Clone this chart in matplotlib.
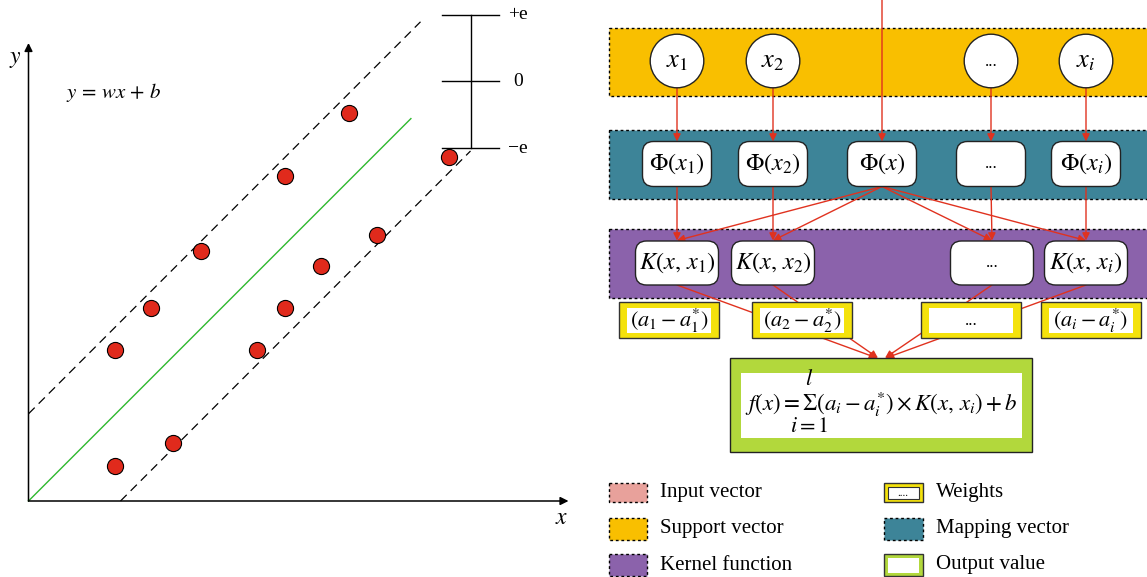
import matplotlib.pyplot as plt
from matplotlib.patches import Rectangle, FancyBboxPatch, Circle

plt.rcParams['font.family'] = ['Liberation Serif', 'DejaVu Serif']
plt.rcParams['mathtext.fontset'] = 'stix'

# --- regression panel data ---
pts_x = [2.15, 3.6, 2.15, 3.05, 4.3, 5.7, 6.4, 7.3, 8.7, 6.4, 8.0, 10.5]
pts_y = [0.88, 1.45, 3.78, 4.83, 6.25, 3.78, 4.83, 5.88, 6.65, 8.12, 9.7, 8.6]
w, b = 1.0, 0.0            # fitted line y = wx + b
band_up, band_lo = 2.18, -2.3
eps_center, eps_half = 10.49, 1.67
eps_labels = ['+e', '0', '\u2212e']

# --- network diagram data ---
input_labels = [r'$x_1$', r'$x_2$', '...', r'$x_i$']
map_labels = [r'$\Phi(x_1)$', r'$\Phi(x_2)$', r'$\Phi(x)$', '...', r'$\Phi(x_i)$']
kernel_labels = [r'$K(x,\, x_1)$', r'$K(x,\, x_2)$', '...', r'$K(x,\, x_i)$']
weight_labels = [r'$(a_1 - a_1^{*})$', r'$(a_2 - a_2^{*})$', '...', r'$(a_i - a_i^{*})$']
legend_left = ['Input vector', 'Support vector', 'Kernel function']
legend_right = ['Weights', 'Mapping vector', 'Output value']

# layout (pixels)
input_cx = [677, 773, 991, 1086]
map_cx = [677, 773, 882, 991, 1086]
kernel_cx = [677, 773, 992, 1086]
weight_cx = [669, 802, 971, 1091]

RED = '#e0321f'
C_INPUT = '#e8a19b'
C_SUPPORT = '#f9bf00'
C_MAP = '#3d8498'
C_KERNEL = '#8b62ab'
C_WEIGHT = '#f4e20c'
C_OUT = '#b2d83c'

fig = plt.figure(figsize=(11.47, 5.77), dpi=100)

# ================= left: epsilon-tube regression =================
ax_l = fig.add_axes([0, 0, 580 / 1147, 1])
ax_l.set_xlim(-0.7125, 13.7875)
ax_l.set_ylim(-1.9, 12.525)
ax_l.axis('off')

arrow_kw = dict(arrowstyle='-|>', color='black', lw=1.1, mutation_scale=12,
                shrinkA=0, shrinkB=0)
ax_l.annotate('', xy=(13.5, 0), xytext=(0, 0), arrowprops=arrow_kw)
ax_l.annotate('', xy=(0, 11.45), xytext=(0, 0), arrowprops=arrow_kw)
ax_l.text(13.34, -0.45, '$x$', fontsize=17, ha='center', va='center')
ax_l.text(-0.34, 11.05, '$y$', fontsize=17, ha='center', va='center')
ax_l.text(2.12, 10.2, r'$y \,=\, wx \,+\, b$', fontsize=15, ha='center', va='center')

ax_l.plot([0, 9.56], [b, w * 9.56 + b], color='#2eb82e', lw=1)
ax_l.plot([0, 9.8], [band_up, 9.8 + band_up], color='black', lw=0.9, dashes=(7, 4.5))
ax_l.plot([-band_lo, 11.05], [0, 11.05 + band_lo], color='black', lw=0.9, dashes=(7, 4.5))

ax_l.scatter(pts_x, pts_y, s=135, facecolor='#e02a1c', edgecolor='black',
             linewidth=0.8, zorder=3)

# epsilon scale bar
ex = 11.05
ax_l.plot([ex, ex], [eps_center - eps_half, eps_center + eps_half], color='black', lw=1)
for k, lab in enumerate(eps_labels):
    yy = eps_center + eps_half * (1 - k)
    ax_l.plot([ex - 0.72, ex + 0.72], [yy, yy], color='black', lw=1)
    ax_l.text(12.24, yy, lab, fontsize=14, ha='center', va='center')

# ================= right: SVR network =================
ax = fig.add_axes([0, 0, 1, 1])
ax.set_xlim(0, 1147)
ax.set_ylim(577, 0)
ax.axis('off')
ax.patch.set_alpha(0)


def band(y0, y1, color):
    ax.add_patch(Rectangle((608.5, y0), 560, y1 - y0, facecolor=color,
                           edgecolor='black', lw=1, linestyle=(0, (2, 2)), zorder=1))


def rbox(cx, cy, wd, ht, label, fs):
    ax.add_patch(FancyBboxPatch((cx - wd / 2, cy - ht / 2), wd, ht,
                                boxstyle='round,pad=0,rounding_size=11',
                                facecolor='white', edgecolor='#222222', lw=1, zorder=3))
    ax.text(cx, cy, label, fontsize=fs, ha='center', va='center', zorder=4)


def arrow(p0, p1, head=True, z=2):
    ax.annotate('', xy=p1, xytext=p0, zorder=z,
                arrowprops=dict(arrowstyle='-|>' if head else '-', color=RED, lw=1,
                                mutation_scale=11, shrinkA=0, shrinkB=0))


band(27.5, 96, C_SUPPORT)
band(129.5, 198.5, C_MAP)
band(228.5, 297.5, C_KERNEL)

# input nodes
for cx, lab in zip(input_cx, input_labels):
    ax.add_patch(Circle((cx, 61), 26.8, facecolor='white', edgecolor='#222222',
                        lw=1, zorder=3))
    ax.text(cx, 62, lab, fontsize=19 if lab != '...' else 12, ha='center',
            va='center', zorder=4)

# mapping boxes
for cx, lab in zip(map_cx, map_labels):
    rbox(cx, 164, 69, 45, lab, 17.5 if lab != '...' else 12)

# kernel boxes
for cx, lab in zip(kernel_cx, kernel_labels):
    rbox(cx, 263, 83, 44, lab, 17.5 if lab != '...' else 12)

# arrows: input -> mapping
arrow((882, 0), (882, 141.5))
for cx in input_cx:
    arrow((cx, 88), (cx, 141.5))

# arrows: mapping -> kernel
for cx, kx in zip([677, 773, 991, 1086], kernel_cx):
    arrow((cx, 186.5), (kx, 240.5))
for kx in kernel_cx:
    arrow((882, 186.5), (kx, 240.5))

# weight boxes
for cx, lab in zip(weight_cx, weight_labels):
    ax.add_patch(Rectangle((cx - 50, 301.7), 100, 36.6, facecolor=C_WEIGHT,
                           edgecolor='#333333', lw=1, zorder=3))
    ax.add_patch(Rectangle((cx - 42, 308.3), 84, 24.4, facecolor='white',
                           edgecolor='none', zorder=3))
    ax.text(cx, 321, lab, fontsize=16 if lab != '...' else 12, ha='center',
            va='center', zorder=4)

# kernel -> output (passing behind the weights)
for kx, tx in zip(kernel_cx, [877, 878, 885, 886]):
    arrow((kx, 285), (tx, 358), z=2)

# output box
ax.add_patch(Rectangle((730, 358), 301.5, 93.5, facecolor=C_OUT,
                       edgecolor='#222222', lw=1, zorder=3))
ax.add_patch(Rectangle((741, 373.3), 280.7, 64.4, facecolor='white',
                       edgecolor='none', zorder=3))
formula = r'$f(x) = \Sigma(a_i - a_i^{*}) \times K(x,\, x_i) + b$'
fx0 = 745
fs_f = 16.5
ax.text(fx0, 404, formula, fontsize=fs_f, ha='left', va='center', zorder=4)

# place the sum limits over/under the sigma sign
fig.canvas.draw()
rend = fig.canvas.get_renderer()
pre1 = ax.text(fx0, 404, r'$f(x) = $', fontsize=fs_f, ha='left', va='center')
pre2 = ax.text(fx0, 404, r'$f(x) = \Sigma$', fontsize=fs_f, ha='left', va='center')
w1 = pre1.get_window_extent(rend).width
w2 = pre2.get_window_extent(rend).width
pre1.remove()
pre2.remove()
sig_x = fx0 + (w1 + w2) / 2
ax.text(sig_x, 380, '$l$', fontsize=16, ha='center', va='center', zorder=4)
ax.text(sig_x, 428, '$i = 1$', fontsize=16, ha='center', va='center', zorder=4)

# ================= legend =================
rows = [(483, 502), (518, 540), (554, 576)]
for (y0, y1), lab, col in zip(rows, legend_left, [C_INPUT, C_SUPPORT, C_KERNEL]):
    ax.add_patch(Rectangle((609, y0), 38, y1 - y0, facecolor=col, edgecolor='black',
                           lw=1, linestyle=(0, (2, 2)), zorder=3))
    ax.text(660, (y0 + y1) / 2, lab, fontsize=15, ha='left', va='center')

for (y0, y1), lab in zip(rows, legend_right):
    if lab == 'Weights':
        ax.add_patch(Rectangle((884, y0), 38.5, y1 - y0, facecolor=C_WEIGHT,
                               edgecolor='#333333', lw=1, zorder=3))
        ax.add_patch(Rectangle((887.5, y0 + 3.5), 31.5, y1 - y0 - 7, facecolor='white',
                               edgecolor='#333333', lw=0.8, zorder=3))
        ax.text(903, (y0 + y1) / 2 + 1, '....', fontsize=8, ha='center',
                va='center', zorder=4)
    elif lab == 'Mapping vector':
        ax.add_patch(Rectangle((884, y0), 38.5, y1 - y0, facecolor=C_MAP,
                               edgecolor='black', lw=1, linestyle=(0, (2, 2)), zorder=3))
    else:
        ax.add_patch(Rectangle((884, y0), 38.5, y1 - y0, facecolor=C_OUT,
                               edgecolor='#333333', lw=1, zorder=3))
        ax.add_patch(Rectangle((887.5, y0 + 3.5), 31.5, y1 - y0 - 7, facecolor='white',
                               edgecolor='none', zorder=3))
    ax.text(936, (y0 + y1) / 2, lab, fontsize=15, ha='left', va='center')

fig.savefig('out.png', dpi=100)
